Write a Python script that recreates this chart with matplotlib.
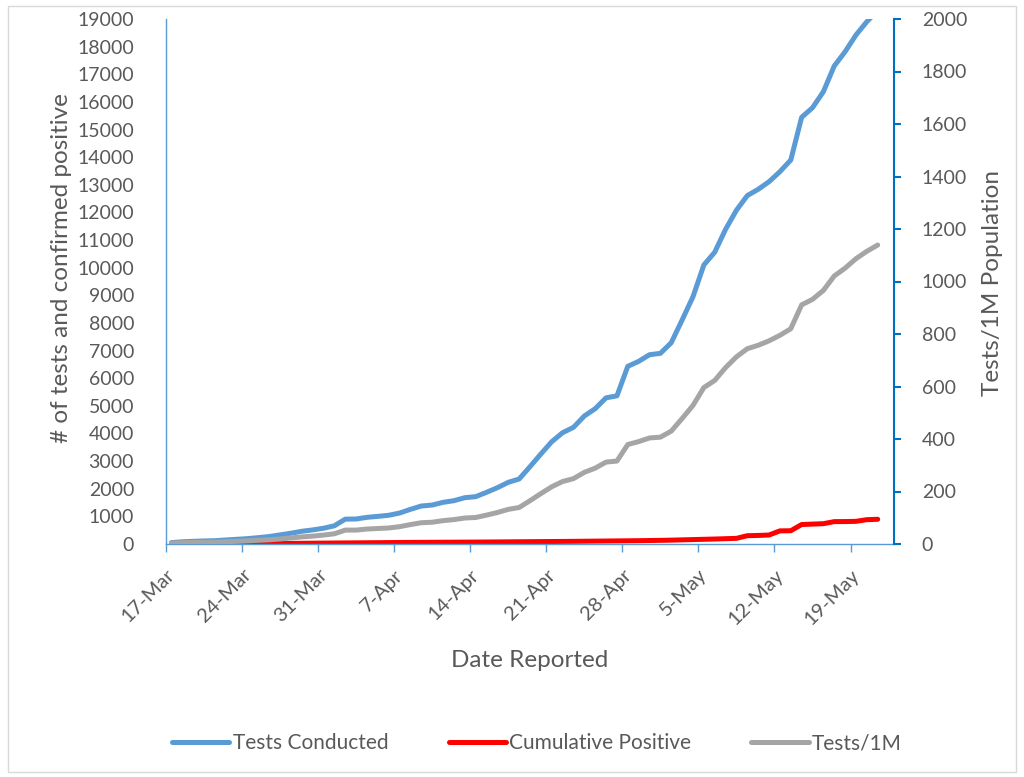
import matplotlib
matplotlib.use("Agg")
import matplotlib.pyplot as plt
import pandas as pd
import numpy as np

plt.rcParams['font.family'] = ['Lato', 'DejaVu Sans']

start_date = "2020-03-17"
n_days = 66

tests_conducted = [50, 80, 97, 110, 120, 145, 170, 195, 230, 270,
                   330, 390, 460, 510, 570, 660, 900, 905, 965, 1000,
                   1040, 1120, 1255, 1375, 1410, 1508, 1568, 1676, 1713, 1870,
                   2038, 2232, 2352, 2798, 3257, 3702, 4028, 4222, 4632, 4897,
                   5290, 5360, 6430, 6610, 6850, 6900, 7285, 8107, 8950, 10097,
                   10560, 11389, 12080, 12610, 12836, 13112, 13474, 13897, 15442, 15790,
                   16369, 17299, 17817, 18421, 18903, 19306]

cumulative_positive = [1, 1, 1, 2, 3, 5, 7, 9, 12, 15,
                       18, 22, 26, 30, 33, 36, 39, 42, 45, 48,
                       52, 55, 58, 60, 62, 64, 66, 68, 70, 72,
                       75, 78, 81, 84, 87, 90, 93, 96, 100, 104,
                       108, 112, 116, 120, 126, 132, 140, 150, 160, 170,
                       180, 192, 205, 300, 310, 325, 475, 480, 705, 720,
                       735, 810, 812, 820, 880, 895]

tests_per_1m = [3, 5, 6, 6.5, 7, 9, 10, 12, 14, 16,
                19, 23, 27, 30, 34, 39, 53, 53, 57, 59,
                61, 66, 74, 81, 83, 89, 93, 99, 101, 110,
                120, 132, 139, 165, 192, 218, 238, 249, 273, 289,
                312, 316, 379, 390, 404, 407, 430, 478, 528, 596,
                623, 672, 713, 744, 757, 774, 795, 820, 911, 932,
                966, 1021, 1051, 1087, 1115, 1139]

tick_labels = ["17-Mar", "24-Mar", "31-Mar", "7-Apr", "14-Apr",
               "21-Apr", "28-Apr", "5-May", "12-May", "19-May"]

series_names = ["Tests Conducted", "Cumulative Positive", "Tests/1M"]

dates = pd.date_range(start_date, periods=n_days, freq="D")
xpos = dates + pd.Timedelta(hours=12)  # points centred between tick marks
tick_dates = pd.date_range(start_date, periods=len(tick_labels), freq="7D")

TXT = "#595959"
BLUE = "#5B9BD5"
RED = "#FF0000"
GRAY = "#A5A5A5"
DARKBLUE = "#0070C0"

fig = plt.figure(figsize=(10.24, 7.77), dpi=100)
fig.patch.set_facecolor("white")
# chart-area border
fig.add_artist(plt.Rectangle((8/1024, 5/777), 1008/1024, 766/777,
                             transform=fig.transFigure, fill=False,
                             edgecolor="#D9D9D9", linewidth=1.0))

ax = fig.add_axes([166/1024, 1-544/777, (894-166)/1024, (544-19)/777])
ax2 = ax.twinx()

lw = 3.6
l1, = ax.plot(xpos, tests_conducted, color=BLUE, lw=lw, solid_capstyle="round",
              solid_joinstyle="round", label=series_names[0])
l2, = ax.plot(xpos, cumulative_positive, color=RED, lw=lw, solid_capstyle="round",
              solid_joinstyle="round", label=series_names[1])
l3, = ax2.plot(xpos, tests_per_1m, color=GRAY, lw=lw, solid_capstyle="round",
               solid_joinstyle="round", label=series_names[2])

ax.set_xlim(pd.Timestamp(start_date), pd.Timestamp(start_date) + pd.Timedelta(days=67))
ax.set_ylim(0, 19000)
ax2.set_ylim(0, 2000)
ax.set_yticks(np.arange(0, 19001, 1000))
ax2.set_yticks(np.arange(0, 2001, 200))

ax.set_xticks(tick_dates)
ax.set_xticklabels(tick_labels, rotation=45, ha="right", va="top",
                   rotation_mode="anchor")

for s in ["top", "right"]:
    ax.spines[s].set_visible(False)
ax.spines["left"].set_color(BLUE)
ax.spines["left"].set_linewidth(1.0)
ax.spines["bottom"].set_color(BLUE)
ax.spines["bottom"].set_linewidth(1.0)
for s in ["top", "left", "bottom"]:
    ax2.spines[s].set_visible(False)
ax2.spines["right"].set_color(DARKBLUE)
ax2.spines["right"].set_linewidth(1.5)

ax.tick_params(axis="y", length=0, pad=23, labelsize=14, labelcolor=TXT)
ax.tick_params(axis="x", length=6, width=1, color=BLUE, direction="out",
               pad=10, labelsize=14.5, labelcolor=TXT)
ax2.tick_params(axis="y", length=5, width=1.5, color=DARKBLUE, direction="out",
                pad=15, labelsize=14, labelcolor=TXT)

ax.set_ylabel("# of tests and confirmed positive", fontsize=17.5, color=TXT)
ax.yaxis.set_label_coords(-0.129, 0.526)
ax2.set_ylabel("Tests/1M Population", fontsize=17.5, color=TXT)
ax2.yaxis.set_label_coords(1.121, 0.497)
ax.set_xlabel("Date Reported", fontsize=17.5, color=TXT, labelpad=16)

fig.legend([l1, l2, l3], series_names, loc="center",
           bbox_to_anchor=(537/1024, 1-743/777), ncol=3, frameon=False,
           fontsize=15, labelcolor=TXT, handlelength=2.75, handletextpad=0.15,
           columnspacing=2.9)

fig.savefig("out.png", dpi=100, facecolor="white")
